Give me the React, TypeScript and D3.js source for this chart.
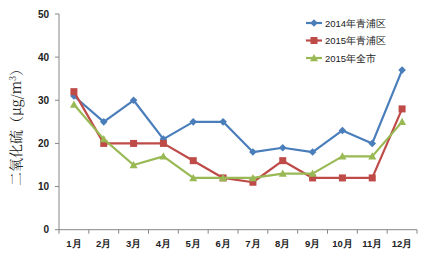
import React from "react";
import * as d3 from "d3";

const months = ["1月","2月","3月","4月","5月","6月","7月","8月","9月","10月","11月","12月"];
const qingpu2014 = [31, 25, 30, 21, 25, 25, 18, 19, 18, 23, 20, 37];
const qingpu2015 = [32, 20, 20, 20, 16, 12, 11, 16, 12, 12, 12, 28];
const city2015 = [29, 21, 15, 17, 12, 12, 12, 13, 13, 17, 17, 25];
const yTicks = [0, 10, 20, 30, 40, 50];

const series = [
  { name: "2014年青浦区", values: qingpu2014, color: "#4A7EBB", marker: "diamond" },
  { name: "2015年青浦区", values: qingpu2015, color: "#BE4B48", marker: "square" },
  { name: "2015年全市", values: city2015, color: "#98B954", marker: "triangle" },
];

const W = 426, H = 257;
const left = 59, right = 417, top = 14, bottom = 229.7;

function Marker({ type, x, y, color }: { type: string; x: number; y: number; color: string }) {
  if (type === "diamond") {
    const s = 3.8;
    return <path d={`M${x},${y - s}L${x + s},${y}L${x},${y + s}L${x - s},${y}Z`} fill={color} />;
  }
  if (type === "square") {
    const s = 3.5;
    return <rect x={x - s} y={y - s} width={2 * s} height={2 * s} fill={color} />;
  }
  const s = 4;
  return <path d={`M${x},${y - s}L${x + s},${y + s * 0.8}L${x - s},${y + s * 0.8}Z`} fill={color} />;
}

export default function App() {
  const x = d3.scaleBand<string>().domain(months).range([left, right]);
  const y = d3.scaleLinear().domain([0, 50]).range([bottom, top]);
  const cx = (m: string) => (x(m) as number) + x.bandwidth() / 2;
  const line = d3.line<number>().x((_, i) => cx(months[i])).y((v) => y(v));
  const fontSans = "'Liberation Sans', Arial, sans-serif";
  return (
    <svg width={W} height={H} style={{ position: "absolute", left: 0, top: 0 }}>
      <rect width={W} height={H} fill="#fff" />
      {/* axes */}
      <line x1={left} x2={left} y1={top} y2={bottom} stroke="#868686" strokeWidth={1} />
      <line x1={left} x2={right} y1={bottom} y2={bottom} stroke="#868686" strokeWidth={1} />
      {yTicks.map((t) => (
        <g key={t}>
          <line x1={left - 4} x2={left} y1={y(t)} y2={y(t)} stroke="#868686" />
          <text x={49} y={y(t) + 3.5} textAnchor="end" fontSize={10} fontWeight="bold" fontFamily={fontSans} fill="#222">{t}</text>
        </g>
      ))}
      {months.map((m, i) => (
        <line key={"t" + i} x1={x(m) as number} x2={x(m) as number} y1={bottom} y2={bottom + 4} stroke="#868686" />
      ))}
      <line x1={right} x2={right} y1={bottom} y2={bottom + 4} stroke="#868686" />
      {months.map((m) => (
        <text key={m} x={cx(m)} y={247} textAnchor="middle" fontSize={9.5} fontWeight="bold" fontFamily={fontSans} fill="#222">{m}</text>
      ))}
      {/* y title */}
      <text transform={`translate(21,124) rotate(-90)`} textAnchor="middle" fontSize={14} fontFamily="'Noto Serif CJK SC', 'Noto Sans CJK SC', serif" fill="#222">
        二氧化硫（μg/m<tspan fontSize={9} dy={-5}>3</tspan><tspan dy={5}>）</tspan>
      </text>
      {/* series */}
      {series.map((s) => (
        <g key={s.name}>
          <path d={line(s.values) || ""} fill="none" stroke={s.color} strokeWidth={2.2} strokeLinejoin="round" />
          {s.values.map((v, i) => (
            <Marker key={i} type={s.marker} x={cx(months[i])} y={y(v)} color={s.color} />
          ))}
        </g>
      ))}
      {/* legend */}
      {series.map((s, i) => {
        const ly = 23 + i * 17.5;
        return (
          <g key={"l" + i}>
            <line x1={306} x2={322} y1={ly} y2={ly} stroke={s.color} strokeWidth={2.2} />
            <Marker type={s.marker} x={314} y={ly} color={s.color} />
            <text x={325} y={ly + 3.5} fontSize={9.5} fontFamily={fontSans} fill="#222">{s.name}</text>
          </g>
        );
      })}
    </svg>
  );
}
